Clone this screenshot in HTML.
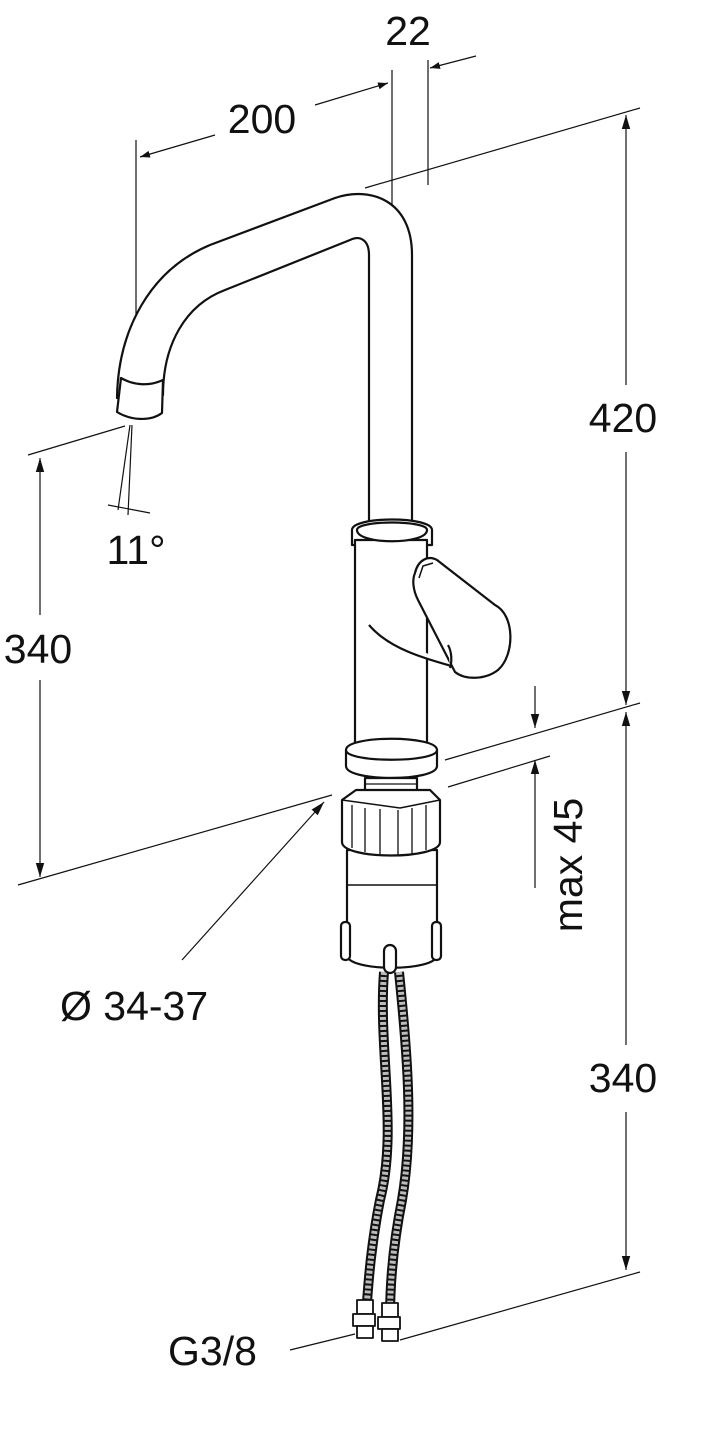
<!DOCTYPE html>
<html><head><meta charset="utf-8"><style>
html,body{margin:0;padding:0;background:#fff;}
svg{display:block;}
text{font-family:"Liberation Sans",sans-serif;font-size:41px;fill:#111;}
</style></head><body>
<svg width="711" height="1438" viewBox="0 0 711 1438" xmlns="http://www.w3.org/2000/svg">
<defs>
<marker id="a" viewBox="0 0 10 10" refX="10" refY="5" markerWidth="10" markerHeight="10" markerUnits="userSpaceOnUse" orient="auto-start-reverse"><path d="M0,1.5 L10,5 L0,8.5 z" fill="#111"/></marker>
<marker id="b" viewBox="0 0 10 10" refX="10" refY="5" markerWidth="14" markerHeight="14" markerUnits="userSpaceOnUse" orient="auto-start-reverse"><path d="M0,2 L10,5 L0,8 z" fill="#111"/></marker>
</defs>
<g stroke="#111" fill="none" stroke-width="1.2">
<line x1="136" y1="140" x2="136" y2="400"/>
<line x1="140" y1="157" x2="215" y2="135" marker-start="url(#a)"/>
<line x1="315" y1="105" x2="388" y2="83" marker-end="url(#a)"/>
<line x1="392" y1="70" x2="392" y2="280"/>
<line x1="428" y1="60" x2="428" y2="185"/>
<line x1="476" y1="56" x2="430" y2="68" marker-end="url(#a)"/>
<line x1="365" y1="188" x2="640" y2="108"/>
<line x1="626" y1="115" x2="626" y2="385" marker-start="url(#b)"/>
<line x1="626" y1="452" x2="626" y2="705" marker-end="url(#b)"/>
<line x1="445" y1="760" x2="640" y2="703"/>
<line x1="18" y1="885" x2="332" y2="795"/>
<line x1="28" y1="455" x2="125" y2="426"/>
<line x1="40" y1="458" x2="40" y2="615" marker-start="url(#b)"/>
<line x1="40" y1="680" x2="40" y2="877" marker-end="url(#b)"/>
<line x1="130" y1="425" x2="118" y2="510"/>
<line x1="132" y1="425" x2="128" y2="515"/>
<line x1="108" y1="505" x2="150" y2="513"/>
<line x1="535" y1="686" x2="535" y2="728" marker-end="url(#b)"/>
<line x1="535" y1="888" x2="535" y2="760" marker-end="url(#b)"/>
<line x1="448" y1="787" x2="550" y2="756"/>
<line x1="182" y1="960" x2="324" y2="802" marker-end="url(#b)"/>
<line x1="626" y1="712" x2="626" y2="1045" marker-start="url(#b)"/>
<line x1="626" y1="1112" x2="626" y2="1270" marker-end="url(#b)"/>
<line x1="400" y1="1340" x2="640" y2="1272"/>
<line x1="290" y1="1350" x2="355" y2="1334"/>
</g>
<g stroke="#111" fill="#fff" stroke-width="2.2" stroke-linejoin="round">
<path d="M117,398 C118,330 150,270 210,245 L335,198 C370,186 412,200 412,255 L412,525 L369,525 L369,255 C369,240 360,235 350,240 L225,290 C185,305 163,345 163,395 Z"/>
<path d="M121,378 C135,386 150,386 163,380 L162,413 C150,422 130,420 117,412 Z"/>
<path d="M352,530 C352,516 432,516 432,530 L432,545 L352,545 Z"/>
<rect x="355" y="540" width="72" height="205"/>
<path d="M357,530 C357,520 427,520 427,530 C427,545 357,545 357,530 Z"/>
<path d="M369,625 C390,650 430,660 455,667"/>
<path d="M415,573 C418,560 428,555 437,560 L495,605 C515,615 515,655 498,670 C485,680 465,680 455,672 L418,600 C413,590 412,580 415,573 Z"/>
<path d="M419,578 L423,566 L433,563" stroke-width="1.5"/>
<path d="M448,645 C452,652 452,662 450,668"/>
<path d="M346,750 C346,735 437,735 437,750 L437,766 C437,782 346,782 346,766 Z"/>
<path d="M346,750 C346,763 437,763 437,750"/>
<rect x="365" y="778" width="52" height="32"/>
<g stroke-width="1.2"><line x1="365" y1="784" x2="417" y2="784"/><line x1="365" y1="790" x2="417" y2="790"/><line x1="365" y1="796" x2="417" y2="796"/><line x1="365" y1="802" x2="417" y2="802"/></g>
<path d="M347,850 L347,955 C347,972 437,972 437,955 L437,850 Z"/>
<line x1="347" y1="885" x2="437" y2="885" stroke-width="1.5"/>
<rect x="341" y="922" width="9" height="38" rx="4"/>
<rect x="432" y="922" width="9" height="38" rx="4"/>
<path d="M342,800 L356,790 L430,790 L440,800 L440,842 C440,860 342,860 342,842 Z"/>
<path d="M342,800 L400,808 L440,800" stroke-width="1.5"/>
<g stroke-width="1.3"><line x1="352" y1="805" x2="352" y2="848"/><line x1="365" y1="808" x2="365" y2="852"/><line x1="380" y1="809" x2="380" y2="855"/><line x1="398" y1="810" x2="398" y2="856"/><line x1="412" y1="808" x2="412" y2="855"/><line x1="426" y1="805" x2="426" y2="850"/></g>
<path d="M384,972 C378,1050 398,1130 380,1200 C370,1250 368,1290 366,1315" stroke-width="10" stroke="#111" fill="none"/>
<path d="M384,972 C378,1050 398,1130 380,1200 C370,1250 368,1290 366,1315" stroke-width="6" stroke="#bbb" fill="none" stroke-dasharray="3 2"/>
<path d="M399,972 C407,1050 414,1130 402,1200 C392,1250 390,1290 390,1318" stroke-width="10" stroke="#111" fill="none"/>
<path d="M399,972 C407,1050 414,1130 402,1200 C392,1250 390,1290 390,1318" stroke-width="6" stroke="#bbb" fill="none" stroke-dasharray="3 2"/>
<rect x="384" y="945" width="12" height="28" rx="6"/>
<rect x="357" y="1300" width="16" height="14" stroke-width="1.8"/>
<rect x="353" y="1314" width="22" height="12" stroke-width="1.8"/>
<rect x="357" y="1326" width="16" height="12" stroke-width="1.8"/>
<rect x="382" y="1303" width="16" height="14" stroke-width="1.8"/>
<rect x="378" y="1317" width="22" height="12" stroke-width="1.8"/>
<rect x="382" y="1329" width="16" height="12" stroke-width="1.8"/>
</g>
<text x="408" y="45" text-anchor="middle">22</text>
<text x="262" y="133" text-anchor="middle">200</text>
<text x="623" y="432" text-anchor="middle">420</text>
<text x="38" y="663" text-anchor="middle">340</text>
<text x="136" y="564" text-anchor="middle">11°</text>
<text x="582" y="865" text-anchor="middle" transform="rotate(-90 582 865)">max 45</text>
<text x="60" y="1020">Ø 34-37</text>
<text x="623" y="1092" text-anchor="middle">340</text>
<text x="168" y="1365">G3/8</text>
</svg>
</body></html>
